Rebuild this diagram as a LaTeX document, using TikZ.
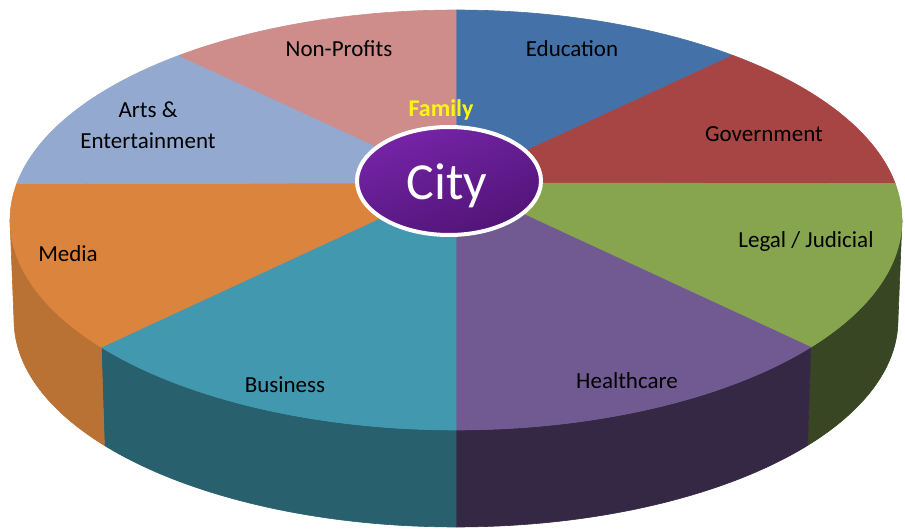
\documentclass[tikz,border=0pt]{standalone}
\usepackage{fontspec}
\setmainfont{Carlito}
\usetikzlibrary{shapes.geometric}
\definecolor{cNon}{RGB}{206,140,139}
\definecolor{cEdu}{RGB}{68,114,168}
\definecolor{cGov}{RGB}{166,69,67}
\definecolor{cLeg}{RGB}{135,165,79}
\definecolor{cHea}{RGB}{113,90,145}
\definecolor{cBus}{RGB}{65,152,175}
\definecolor{cMed}{RGB}{219,132,61}
\definecolor{cArt}{RGB}{147,169,207}
\definecolor{sLeg}{RGB}{56,70,36}
\definecolor{sHea}{RGB}{52,40,68}
\definecolor{sBus}{RGB}{40,96,110}
\definecolor{sMed}{RGB}{186,113,52}
\definecolor{cityTop}{RGB}{118,36,168}
\definecolor{cityBot}{RGB}{80,20,118}
\definecolor{famYellow}{RGB}{250,245,20}
\newcommand\pieslice[3]{%
  \fill[#1,draw=#1,line width=0.6pt,line join=round] (456,183) -- plot[domain=#2:#3,samples=60] ({456+446*cos(\x)},{220+210*sin(\x)}) -- cycle;}
\newcommand\pieside[3]{%
  \fill[#1,draw=#1,line width=0.6pt,line join=round] plot[domain=#2:#3,samples=60] ({456+446*cos(\x)},{220+210*sin(\x)}) -- plot[domain=#3:#2,samples=60] ({456+442*cos(\x)},{320+207*sin(\x)}) -- cycle;}
\tikzset{
  lbl/.style={font=\fontsize{23}{23}\selectfont, text=black, anchor=base, inner sep=0pt},
}
\begin{document}
\begin{tikzpicture}[x=1pt,y=-1pt]
\useasboundingbox (0,0) rectangle (905,529);
% sides
\pieside{sLeg}{0}{37.3}
\pieside{sHea}{37.3}{90}
\pieside{sBus}{90}{142.7}
\pieside{sMed}{142.7}{180}
% top slices
\pieslice{cEdu}{-90}{-51.6}
\pieslice{cGov}{-51.6}{-10}
\pieslice{cLeg}{-10}{37.3}
\pieslice{cHea}{37.3}{90}
\pieslice{cBus}{90}{142.7}
\pieslice{cMed}{142.7}{190}
\pieslice{cArt}{190}{231.6}
\pieslice{cNon}{231.6}{270}
% labels
\node[lbl] (non) at (339,57) {Non-Profits};
\node[lbl] (edu) at (572,57) {Education};
\node[lbl] (gov) at (764,142) {Government};
\node[lbl] (leg) at (806,248) {Legal / Judicial};
\node[lbl] (hea) at (627,388) {Healthcare};
\node[lbl] (bus) at (285,392) {Business};
\node[lbl] (med) at (68,262) {Media};
\node[lbl] (art1) at (148,118) {Arts \&};
\node[lbl] (art2) at (148,149) {Entertainment};
% center
\node[ellipse, minimum width=184pt, minimum height=108pt, draw=white, line width=4pt,
      top color=cityTop, bottom color=cityBot, shading angle=20, inner sep=0pt] (city) at (449,181) {};
\node[font=\fontsize{52}{52}\selectfont, text=white, anchor=base, inner sep=0pt] (citytxt) at (447,200) {City};
\node[font=\fontsize{24}{24}\selectfont\bfseries, text=famYellow, anchor=base, inner sep=0pt] (fam) at (441,117) {Family};
\end{tikzpicture}
\end{document}
